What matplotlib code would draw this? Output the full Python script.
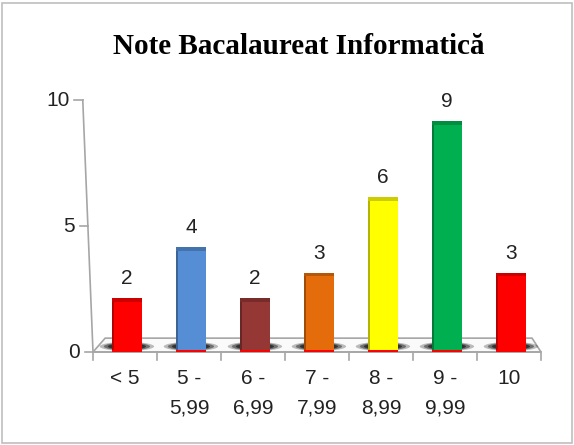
import matplotlib.pyplot as plt
import numpy as np
from matplotlib.patches import Polygon, Ellipse, Rectangle
import matplotlib.colors as mcolors

# Data
categories = ['< 5', '5 -\n5,99', '6 -\n6,99', '7 -\n7,99', '8 -\n8,99', '9 -\n9,99', '10']
counts = [2, 4, 2, 3, 6, 9, 3]
colors = ['#FF0000', '#558ED5', '#953735', '#E46C0A', '#FFFF00', '#00B050', '#FF0000']

fig = plt.figure(figsize=(5.74, 4.45), dpi=100)
ax = fig.add_axes([93 / 574, 1 - 352 / 445, 448 / 574, 252 / 445])

x = np.arange(len(categories))
bar_w = 0.47
font = 'Liberation Sans'
fs = 15


def darker(c, f):
    r, g, b = mcolors.to_rgb(c)
    return (r * f, g * f, b * f)


# Floor of the pseudo-3D chart
floor = Polygon([(-0.5, 0), (6.5, 0), (6.36, 0.55), (-0.31, 0.55)], closed=True,
                facecolor='#FAFAFA', edgecolor='#A6A6A6', lw=1.2, clip_on=False, zorder=1)
ax.add_patch(floor)

# Shadows around bar bases
for xi in x:
    for k, a in zip([1.0, 0.85, 0.7, 0.55], [0.25, 0.4, 0.55, 0.7]):
        ax.add_patch(Ellipse((xi + 0.03, 0.22), 0.85 * k, 0.36 * k, facecolor='black',
                             edgecolor='none', alpha=a, zorder=2, clip_on=False))

# Bars with a darker top face and left side for depth
cap = 0.15
xb = x + 0.03
ax.bar(xb, counts, width=bar_w, color=colors, zorder=3)
ax.bar(xb, cap, bottom=np.array(counts), width=bar_w,
       color=[darker(c, 0.8) for c in colors], zorder=4)
ax.bar(xb - bar_w / 2 + 0.02, counts, width=0.04,
       color=[darker(c, 0.7) for c in colors], zorder=4)
ax.bar(xb, 0.08, width=bar_w, color='#FF0000', zorder=4)

for xi, v in zip(xb, counts):
    ax.text(xi, v + 0.55, str(v), ha='center', va='bottom', fontsize=fs,
            family=font, color='#222222', zorder=5)

ax.set_xlim(-0.5, 6.5)
ax.set_ylim(0, 10)
for s in ax.spines.values():
    s.set_visible(False)

# Slanted value axis
ax.plot([-0.5, -0.66], [0, 10], color='#A6A6A6', lw=1.2, clip_on=False)
ax.plot([-0.5, 6.5], [0, 0], color='#A6A6A6', lw=1.2, clip_on=False)
for yv in [0, 5, 10]:
    xe = -0.5 - 0.016 * yv
    ax.plot([xe - 0.13, xe], [yv, yv], color='#A6A6A6', lw=1.2, clip_on=False)
    ax.text(xe - 0.2, yv, str(yv), ha='right', va='center', fontsize=fs,
            family=font, color='#222222')

# Category ticks
for xt in np.arange(-0.5, 7, 1):
    ax.plot([xt, xt], [0, -0.3], color='#A6A6A6', lw=1.2, clip_on=False)

ax.set_yticks([])
ax.set_xticks(x)
ax.set_xticklabels(categories, fontsize=fs, family=font, color='#222222',
                   linespacing=1.7)
ax.tick_params(axis='x', length=0, pad=12)

fig.text(0.52, 1 - 47 / 445, 'Note Bacalaureat Informatică', ha='center', va='center',
         fontsize=21, fontweight='bold', family='Liberation Serif')

fig.patches.append(Rectangle((0.004, 0.004), 0.992, 0.99, transform=fig.transFigure,
                             fill=False, edgecolor='#BFBFBF', lw=1.2))

fig.savefig('out.png', dpi=100)
